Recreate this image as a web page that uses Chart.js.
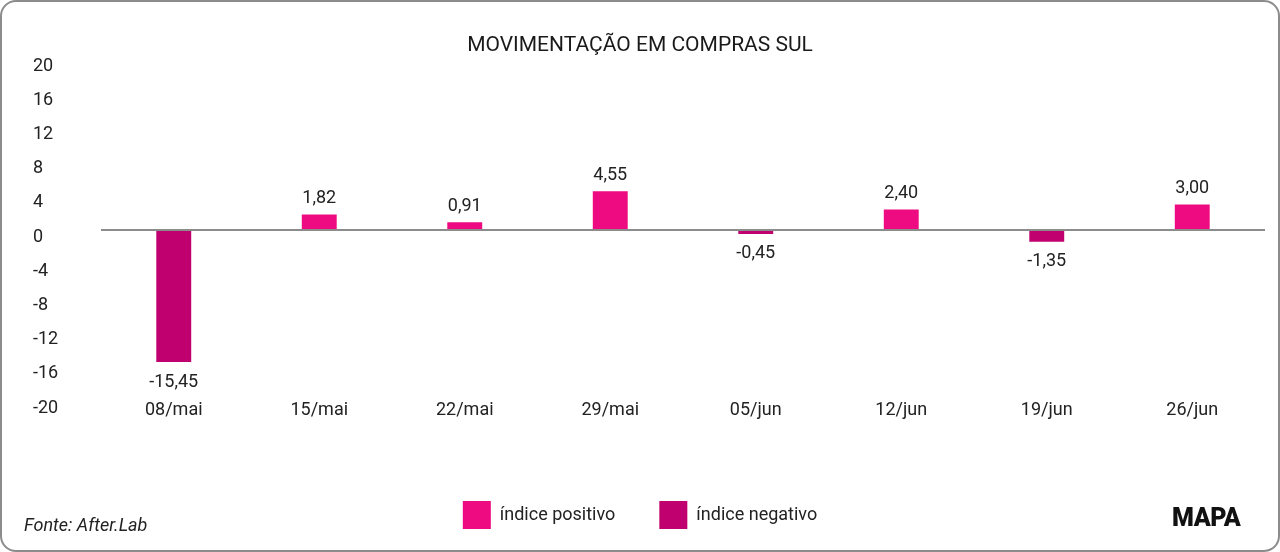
<!DOCTYPE html>
<html>
<head>
<meta charset="utf-8">
<script src="https://cdn.jsdelivr.net/npm/chart.js@4/dist/chart.umd.min.js"></script>
<style>
    html, body { margin: 0; padding: 0; background: #ffffff; }
    #frame {
        position: relative;
        width: 1280px;
        height: 552px;
        box-sizing: border-box;
        border: 2px solid #8c8c8c;
        border-radius: 16px;
        overflow: hidden;
    }
    #chartBox { position: absolute; left: -2px; top: -2px; width: 1280px; height: 552px; }
    #fonte {
        position: absolute; left: 22px; top: 512px;
        font: italic 18px Roboto, sans-serif; color: #222;
    }
    #mapa {
        position: absolute; left: 1170px; top: 501px;
        font: 900 25px Roboto, sans-serif; color: #111; letter-spacing: -0.5px;
    }
</style>
</head>
<body>
<div id="frame">
    <div id="chartBox"><canvas id="comprasSulChart"></canvas></div>
    <div id="fonte">Fonte: After.Lab</div>
    <div id="mapa">MAPA</div>
</div>
<script>
// dados do gráfico
const semanas = ['08/mai', '15/mai', '22/mai', '29/mai', '05/jun', '12/jun', '19/jun', '26/jun'];
const indicePositivo = [null, 1.82, 0.91, 4.55, null, 2.40, null, 3.00];
const indiceNegativo = [-15.45, null, null, null, -0.45, null, -1.35, null];

const corPositivo = '#EE0A80';
const corNegativo = '#C1006F';

// rótulos com vírgula decimal acima/abaixo das barras
const rotulosBarras = {
    id: 'rotulosBarras',
    afterDatasetsDraw(chart) {
        const ctx = chart.ctx;
        ctx.save();
        ctx.font = '18px Roboto, sans-serif';
        ctx.fillStyle = '#222';
        ctx.textAlign = 'center';
        ctx.textBaseline = 'middle';
        chart.data.datasets.forEach((ds, i) => {
            const meta = chart.getDatasetMeta(i);
            meta.data.forEach((bar, j) => {
                const v = ds.data[j];
                if (v === null || v === undefined) return;
                const texto = v.toFixed(2).replace('.', ',');
                const y = v >= 0 ? bar.y - 16 : bar.y + 20;
                ctx.fillText(texto, bar.x, y);
            });
        });
        ctx.restore();
    }
};

// título e legenda centralizados na página (não só na área do gráfico)
const centralizar = {
    id: 'centralizar',
    afterLayout(chart) {
        const desvio = (chart.width - chart.chartArea.right) - 33;
        chart.titleBlock.left += desvio;
        chart.legend.left += desvio;
    }
};

const legendaPadding = 44;

const ctx = document.getElementById('comprasSulChart').getContext('2d');
new Chart(ctx, {
    type: 'bar',
    data: {
        labels: semanas,
        datasets: [{
            label: 'índice positivo',
            data: indicePositivo,
            backgroundColor: corPositivo,
            borderWidth: 0
        }, {
            label: 'índice negativo',
            data: indiceNegativo,
            backgroundColor: corNegativo,
            borderWidth: 0
        }]
    },
    options: {
        responsive: true,
        maintainAspectRatio: false,
        animation: false,
        datasets: {
            bar: {
                grouped: false,
                barPercentage: 0.24,
                categoryPercentage: 1
            }
        },
        layout: {
            padding: { left: 33, right: 15, top: 0, bottom: 13 }
        },
        scales: {
            y: {
                min: -20,
                max: 20,
                afterFit(scale) { scale.width = 68; },
                ticks: {
                    stepSize: 4,
                    crossAlign: 'far',
                    labelOffset: 7,
                    color: '#222',
                    font: { family: 'Roboto', size: 18 }
                },
                grid: {
                    drawTicks: false,
                    color: c => c.tick.value === 0 ? '#8c8c8c' : 'rgba(0,0,0,0)',
                    lineWidth: 2
                },
                border: { display: false }
            },
            x: {
                afterFit(scale) { scale.height = 100 - legendaPadding; },
                ticks: {
                    padding: -9,
                    color: '#222',
                    font: { family: 'Roboto', size: 18 }
                },
                grid: { display: false },
                border: { display: false }
            }
        },
        plugins: {
            title: {
                display: true,
                text: 'MOVIMENTAÇÃO EM COMPRAS SUL',
                color: '#1a1a1a',
                font: { family: 'Roboto', size: 21, weight: 'normal' },
                padding: { top: 33, bottom: 1 }
            },
            legend: {
                position: 'bottom',
                labels: {
                    boxWidth: 28,
                    boxHeight: 28,
                    padding: legendaPadding,
                    color: '#222',
                    font: { family: 'Roboto', size: 18 }
                }
            },
            tooltip: { enabled: false }
        }
    },
    plugins: [rotulosBarras, centralizar]
});
</script>
</body>
</html>
